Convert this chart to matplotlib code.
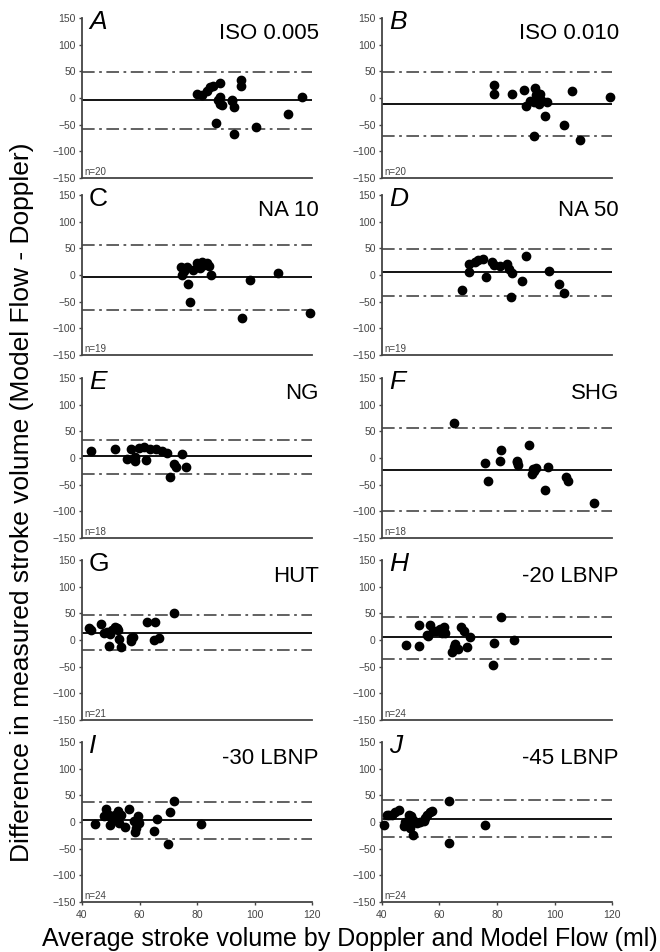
import matplotlib
matplotlib.use("Agg")
import matplotlib.pyplot as plt

plt.rcParams['font.family'] = ['Liberation Sans', 'DejaVu Sans']

letters = ['A', 'B', 'C', 'D', 'E', 'F', 'G', 'H', 'I', 'J']
titles = ['ISO 0.005', 'ISO 0.010', 'NA 10', 'NA 50', 'NG', 'SHG', 'HUT', '-20 LBNP', '-30 LBNP', '-45 LBNP']
n_labels = ['n=20', 'n=20', 'n=19', 'n=19', 'n=18', 'n=18', 'n=21', 'n=24', 'n=24', 'n=24']

# bias (mean) and limits of agreement
means = [-4, -12, -3, 5, 3, -22, 14, 5, 4, 6]
upper = [49, 49, 57, 49, 34, 56, 46, 44, 38, 41]
lower = [-58, -72, -65, -39, -30, -99, -18, -36, -31, -28]

a_x = [80, 81.7, 83.5, 84.6, 85.6, 87.9, 87.2, 87.9, 88.1, 88.7, 86.7, 92.2, 93, 93, 95.3, 95.4, 100.4, 111.7, 116.5, 92]
a_y = [7, 5, 13, 20, 22, 28, -4, 2, -11, -14, -47, -3, -16, -68, 33, 22, -54, -30, 1, -6]

b_x = [78.8, 78.9, 85.2, 89.3, 90.2, 93.2, 93.9, 95.1, 93, 94.5, 97.4, 96.8, 93, 103.2, 106.1, 109, 119.2, 93.4, 95.4, 91.5]
b_y = [24, 8, 8, 15, -15, 19, 9, 8, -8, -11, -8, -34, -72, -51, 13, -79, 2, 5, -4, -6]

c_x = [74.4, 74.8, 76.5, 76.7, 77.6, 80, 80.6, 81.7, 82.3, 83.5, 84, 85, 95.8, 98.3, 108, 119.4, 78.6, 81, 75.5]
c_y = [15.6, 0, 15.6, -17, -50, 22, 16, 25, 19, 22, 16, 0, -80, -9, 3, -70.6, 9, 14, 8]

d_x = [68, 70.1, 70.4, 72.2, 73.3, 75.1, 76.2, 78.3, 79.1, 81.2, 83.5, 84, 85.2, 84.9, 88.6, 90.2, 98.2, 101.6, 103.2]
d_y = [-29, 5, 20, 25, 28, 30, -3, 24, 19, 17, 21, 11, 4, -42, -11, 35, 7.5, -17.5, -34]

e_x = [43.2, 51.6, 55.7, 57.1, 58.3, 58.6, 59.8, 61.5, 62.1, 63.8, 65.9, 67.9, 69.6, 70.7, 72.1, 72.7, 74.8, 76.3]
e_y = [12.5, 17.5, -2, 17.5, 2, -6, 19, 21, -3, 16, 17.5, 12.5, 9, -36, -11, -17.5, 8, -17.5]

f_x = [65.2, 75.8, 76.8, 81, 81.3, 86.9, 87.3, 91.3, 92.2, 92.5, 93.4, 96.6, 97.6, 104.1, 104.6, 113.9, 92.8, 87]
f_y = [65, -9, -42.5, -5, 15, -5, -12.5, 24, -30, -21, -19, -60, -16, -35, -44, -85, -24, -8]

g_x = [42.3, 43.2, 46.6, 47.8, 48.7, 49.3, 51.6, 52.4, 52.8, 53.7, 57.1, 57.7, 62.7, 65.5, 65.2, 66.7, 71.9, 49.8, 50.5, 57, 52]
g_y = [22.5, 19, 30, 12.5, 15.6, -11, 25, 19, 2, -14, -1, 5, 33, 33, 0, 4, 50, 11, 18, 3, 22]

h_x = [48.5, 52.8, 52.8, 55.5, 56.6, 58.8, 60.2, 61.6, 61.9, 64.2, 65.4, 66.5, 67.4, 68.5, 69.4, 70.7, 78.8, 78.5, 81.4, 85.8, 57.7, 60.8, 65.1, 56]
h_y = [-9, -12, 28, 10, 28, 17.5, 21, 24, 14, -22, -7.5, -17, 24, 17.5, -14, 5, -6, -46, 44, 0.6, 17.5, 13, -14, 8]

i_x = [44.6, 48.5, 48.7, 49.9, 50.4, 52.4, 52.8, 53.6, 55.1, 56.5, 58, 58.6, 59.4, 59.7, 65.2, 66.1, 69.8, 70.7, 72.1, 81.4, 47.5, 51.6, 58.9, 49.5]
i_y = [-4, 24, 12.5, -6, 5, 21, -1, 14, -9, 25, 2, -19, 11, -1, -17, 5, -41, 19, 39, -4, 11, 12.5, -11, 14]

j_x = [40.8, 41.7, 43.5, 44.6, 45.8, 47.5, 49.3, 49.3, 49.9, 50.9, 50.9, 53.3, 54.7, 55.7, 56.6, 57.4, 63.2, 63.2, 75.9, 42.6, 48.1, 52.1, 55.1, 50.2]
j_y = [-6, 12.5, 14, 19, 22, -8, 12.5, 0, -11, 3, -25, 0, 1, 12.5, 19, 21, 39, -39, -5, 14, 0, -2, 8, 11]

xs = [a_x, b_x, c_x, d_x, e_x, f_x, g_x, h_x, i_x, j_x]
ys = [a_y, b_y, c_y, d_y, e_y, f_y, g_y, h_y, i_y, j_y]
upright = ['C', 'G']

W, H = 660, 952
fig = plt.figure(figsize=(W / 100, H / 100), dpi=100)

col_left = [82, 382]
col_width = 230
row_top = [18, 195, 378, 560, 742]
row_height = 160

for k in range(10):
    r, c = divmod(k, 2)
    left = col_left[c] / W
    bottom = 1 - (row_top[r] + row_height) / H
    ax = fig.add_axes([left, bottom, col_width / W, row_height / H])

    ax.set_xlim(40, 120)
    ax.set_ylim(-150, 150)
    ax.axhline(means[k], color='black', lw=1.3)
    ax.axhline(upper[k], color='#555555', lw=1.3, linestyle=(0, (7, 2.5, 1.5, 2.5)))
    ax.axhline(lower[k], color='#555555', lw=1.3, linestyle=(0, (7, 2.5, 1.5, 2.5)))
    ax.scatter(xs[k], ys[k], s=36, color='black', zorder=3, clip_on=False)

    for side in ['top', 'right']:
        ax.spines[side].set_visible(False)
    for side in ['left', 'bottom']:
        ax.spines[side].set_color('#444444')
        ax.spines[side].set_linewidth(1.3)

    ax.set_yticks([-150, -100, -50, 0, 50, 100, 150])
    ax.tick_params(axis='y', labelsize=7.5, labelcolor='#444444', length=2.5, width=1, color='#444444', pad=2)
    if r == 4:
        ax.set_xticks([40, 60, 80, 100, 120])
        ax.tick_params(axis='x', labelsize=7.5, labelcolor='#444444', length=2.5, width=1, color='#444444', pad=3)
    else:
        ax.set_xticks([])

    style = 'normal' if letters[k] in upright else 'italic'
    ax.text(0.03, 1.05, letters[k], transform=ax.transAxes, fontsize=19,
            style=style, ha='left', va='top')
    ax.text(1.03, 0.90, titles[k], transform=ax.transAxes, fontsize=16,
            ha='right', va='center')
    ax.text(0.01, 0.005, n_labels[k], transform=ax.transAxes, fontsize=7,
            color='#444444', ha='left', va='bottom')

fig.text(0.033, 0.472, 'Difference in measured stroke volume (Model Flow - Doppler)',
         rotation=90, fontsize=19, ha='center', va='center')
fig.text(0.53, 0.014, 'Average stroke volume by Doppler and Model Flow (ml)',
         fontsize=18, ha='center', va='center')

fig.savefig('out.png', dpi=100)
